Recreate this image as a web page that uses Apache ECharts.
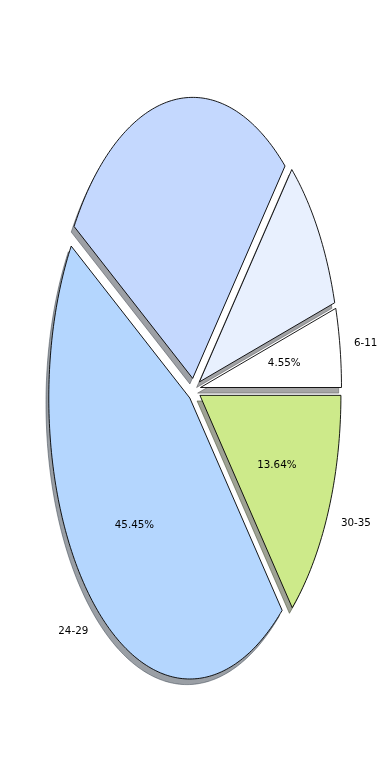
<!DOCTYPE html>
<html><head><meta charset="utf-8">
<script src="https://cdn.jsdelivr.net/npm/echarts@6/dist/echarts.min.js"></script>
<style>html,body{margin:0;padding:0;background:#fff}#c{width:390px;height:780px}</style>
</head><body><div id="c"></div>
<script>
const categories = ['6-11', '', '', '24-29', '30-35'];
const values = [1, 2, 6, 10, 3];
const pctLabels = ['4.55%', '', '', '45.45%', '13.64%'];
const explode = [0.05, 0.05, 0.04, 0.04, 0.05];
const colors = ['#ffffff', '#e8f0fe', '#c4d8fe', '#b4d6fe', '#cdea8a'];

const total = values.reduce((a, b) => a + b, 0);
const starts = []; let acc = 0;
values.forEach(v => { starts.push(acc / total * 360); acc += v; });
const ends = values.map((v, i) => starts[i] + v / total * 360);

function wedgePoints(api, i, dx, dy) {
  const e = explode[i];
  const m = (starts[i] + ends[i]) / 2 * Math.PI / 180;
  const cx = e * Math.cos(m) + dx, cy = e * Math.sin(m) + dy;
  const pts = [api.coord([cx, cy])];
  const n = Math.max(12, Math.ceil(ends[i] - starts[i]));
  for (let k = 0; k <= n; k++) {
    const a = (starts[i] + (ends[i] - starts[i]) * k / n) * Math.PI / 180;
    pts.push(api.coord([cx + Math.cos(a), cy + Math.sin(a)]));
  }
  return pts;
}
function shadowColor(hex) {
  const r = parseInt(hex.slice(1, 3), 16), g = parseInt(hex.slice(3, 5), 16), b = parseInt(hex.slice(5, 7), 16);
  return 'rgba(' + Math.round(r * 0.3) + ',' + Math.round(g * 0.3) + ',' + Math.round(b * 0.3) + ',0.5)';
}
const idx = values.map((v, i) => [i, v]);
const font = '10.3px "DejaVu Sans"';

const chart = echarts.init(document.getElementById('c'));
chart.setOption({
  animation: false,
  grid: { left: 10.2, width: 366.6, top: 24.2, height: 730.6 },
  xAxis: { type: 'value', min: -1.3, max: 1.3, show: false },
  yAxis: { type: 'value', min: -1.3, max: 1.3, show: false },
  series: [
    {
      type: 'custom', z: 1, clip: false, data: idx,
      renderItem: function (params, api) {
        const i = api.value(0);
        const c = shadowColor(colors[i]);
        return { type: 'polygon', shape: { points: wedgePoints(api, i, -0.02, -0.02) },
          style: { fill: c, stroke: c, lineWidth: 1 } };
      }
    },
    {
      type: 'custom', z: 2, clip: false, data: idx,
      renderItem: function (params, api) {
        const i = api.value(0);
        const e = explode[i];
        const m = (starts[i] + ends[i]) / 2 * Math.PI / 180;
        const cos = Math.cos(m), sin = Math.sin(m);
        const children = [{ type: 'polygon', shape: { points: wedgePoints(api, i, 0, 0) },
          style: { fill: colors[i], stroke: '#000', lineWidth: 0.9 } }];
        if (pctLabels[i]) {
          const p = api.coord([(e + 0.6) * cos, (e + 0.6) * sin]);
          children.push({ type: 'text', z2: 10, style: { text: pctLabels[i], x: p[0], y: p[1], align: 'center', verticalAlign: 'middle', font: font, fill: '#000' } });
        }
        if (categories[i]) {
          const p = api.coord([(e + 1.1) * cos, (e + 1.1) * sin]);
          children.push({ type: 'text', z2: 10, style: { text: categories[i], x: p[0], y: p[1], align: cos > 0 ? 'left' : 'right', verticalAlign: 'middle', font: font, fill: '#000' } });
        }
        return { type: 'group', children: children };
      }
    }
  ]
});
</script></body></html>
